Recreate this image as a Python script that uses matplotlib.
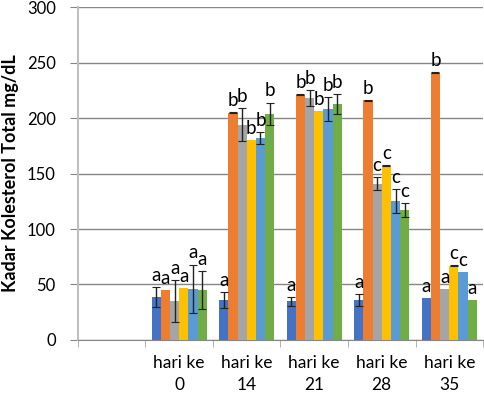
import matplotlib
matplotlib.use("Agg")
import matplotlib.pyplot as plt
import numpy as np

plt.rcParams['font.family'] = ['Lato', 'DejaVu Sans']

categories = ["", "hari ke\n0", "hari ke\n14", "hari ke\n21", "hari ke\n28", "hari ke\n35"]
series_names = ["S1", "S2", "S3", "S4", "S5", "S6"]
colors = ["#4472C4", "#ED7D31", "#A5A5A5", "#FFC000", "#5B9BD5", "#70AD47"]

# values per series over the 5 days (first category is blank)
s1 = [39, 36, 35, 36, 38]
s2 = [45, 205, 221, 216, 241]
s3 = [35, 194, 218, 141, 46]
s4 = [47, 180, 206, 157, 67]
s5 = [46, 182, 208, 125, 61]
s6 = [45, 204, 213, 117, 36]
values = [s1, s2, s3, s4, s5, s6]

e1 = [9, 7, 4, 5, 0]
e2 = [0, 0.6, 0.6, 0.6, 0.6]
e3 = [19, 15, 7.5, 6, 0]
e4 = [0, 0, 0, 0.6, 0.6]
e5 = [22, 5.5, 11, 11, 0]
e6 = [17.5, 10, 9, 6.5, 0]
errors = [e1, e2, e3, e4, e5, e6]

l1 = ["a", "a", "a", "a", "a"]
l2 = ["a", "b", "b", "b", "b"]
l3 = ["a", "b", "b", "c", "a"]
l4 = ["a", "b", "b", "c", "c"]
l5 = ["a", "b", "b", "c", "c"]
l6 = ["a", "b", "b", "c", "a"]
letters = [l1, l2, l3, l4, l5, l6]

fig = plt.figure(figsize=(4.84, 3.99), dpi=100)
ax = fig.add_axes([0.161, 0.148, 0.837, 0.834])

bw = 0.136
n = len(values)
xc = np.arange(1, 6) + 0.5
for i in range(n):
    xs = xc + (i - (n - 1) / 2) * bw
    ax.bar(xs, values[i], width=bw, color=colors[i], zorder=3)
    err = np.array(errors[i], dtype=float)
    mask = err > 0
    ax.errorbar(xs[mask], np.array(values[i])[mask], yerr=err[mask], fmt='none',
                ecolor='#222222', elinewidth=1, capsize=3, capthick=0.8, zorder=4)
    for x, v, e, t in zip(xs, values[i], errors[i], letters[i]):
        ax.text(x, v + e + 5.5, t, ha='center', va='baseline', fontsize=13.5, zorder=5)

ax.set_xlim(0, 6)
ax.set_ylim(0, 300)
ax.set_yticks(np.arange(0, 301, 50))
ax.yaxis.grid(True, color='#868686', linewidth=1)
ax.set_axisbelow(True)

ax.set_xticks(np.arange(0, 6) + 0.5)
ax.set_xticklabels(categories, fontsize=12.5, linespacing=1.45)
ax.set_xticks(np.arange(0, 7), minor=True)
ax.tick_params(axis='x', which='major', length=0, pad=11)
ax.tick_params(axis='x', which='minor', length=5, color='#A6A6A6')
ax.tick_params(axis='y', length=6, color='#868686', labelsize=12, pad=10)

for s in ['top', 'right']:
    ax.spines[s].set_visible(False)
ax.spines['left'].set_color('#BFBFBF')
ax.spines['left'].set_linewidth(1.5)
ax.spines['bottom'].set_color('#868686')

ax.set_ylabel("Kadar Kolesterol Total mg/dL", fontsize=13, fontweight='bold')
ax.yaxis.set_label_coords(-0.145, 0.5)

fig.savefig("out.png", dpi=100)
